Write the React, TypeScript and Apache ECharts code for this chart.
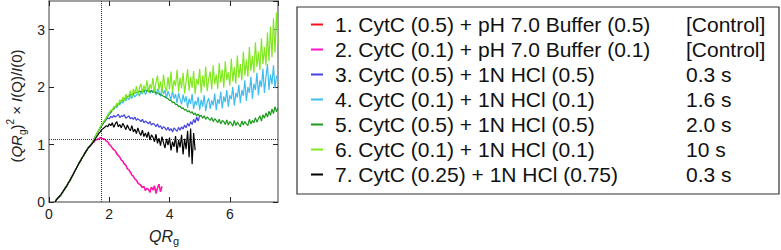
import React, { useEffect, useRef } from "react";
import * as echarts from "echarts";

// x grid of every curve: QRg = X0 + i * DX
const X0 = 0.2;
const DX = 0.05;

// Shared initial rise (QRg 0.20 .. 1.40), identical for all samples
const RISE = [0.0, 0.04, 0.07, 0.1, 0.13, 0.17, 0.21, 0.25, 0.29, 0.34, 0.38, 0.43, 0.48, 0.53, 0.58, 0.63, 0.68, 0.72, 0.77, 0.81, 0.86, 0.9, 0.94, 0.97, 1.0];

// 2. CytC (0.1) + pH 7.0 Buffer (0.1), QRg 1.45 .. 3.75
const S2_TAIL = [1.03, 1.05, 1.08, 1.09, 1.1, 1.12, 1.11, 1.1, 1.09, 1.06, 1.05, 1.0, 0.98, 0.94, 0.91, 0.89, 0.84, 0.81, 0.78, 0.73, 0.71, 0.66, 0.64, 0.58, 0.56, 0.52, 0.47, 0.45, 0.4, 0.38, 0.33, 0.31, 0.29, 0.25, 0.27, 0.2, 0.24, 0.22, 0.17, 0.26, 0.21, 0.28, 0.15, 0.24, 0.31, 0.18, 0.27];
// 1. CytC (0.5) + pH 7.0 Buffer (0.5): hidden beneath curve 2 in the figure
const S1_TAIL = S2_TAIL;

// 3. CytC (0.5) + 1N HCl (0.5), QRg 1.45 .. 5.00
const S3_TAIL = [1.05, 1.1, 1.15, 1.2, 1.24, 1.29, 1.33, 1.37, 1.4, 1.44, 1.46, 1.45, 1.49, 1.47, 1.51, 1.48, 1.5, 1.53, 1.47, 1.5, 1.49, 1.52, 1.46, 1.48, 1.5, 1.45, 1.47, 1.44, 1.48, 1.42, 1.45, 1.43, 1.4, 1.44, 1.38, 1.41, 1.39, 1.36, 1.4, 1.34, 1.37, 1.35, 1.31, 1.36, 1.3, 1.33, 1.27, 1.31, 1.29, 1.25, 1.3, 1.24, 1.28, 1.22, 1.29, 1.26, 1.23, 1.3, 1.25, 1.31, 1.27, 1.34, 1.29, 1.37, 1.32, 1.4, 1.35, 1.44, 1.38, 1.48, 1.41, 1.5];

// 4. CytC (0.1) + 1N HCl (0.1), QRg 1.45 .. 7.55
const S4_TAIL = [1.05, 1.1, 1.15, 1.2, 1.25, 1.3, 1.34, 1.39, 1.42, 1.47, 1.5, 1.56, 1.55, 1.61, 1.62, 1.66, 1.64, 1.71, 1.69, 1.75, 1.72, 1.79, 1.76, 1.82, 1.78, 1.85, 1.8, 1.88, 1.83, 1.86, 1.91, 1.84, 1.93, 1.88, 1.96, 1.87, 1.94, 1.99, 1.89, 1.95, 1.91, 2.0, 1.86, 1.97, 1.92, 1.84, 1.99, 1.88, 1.95, 1.81, 1.93, 1.86, 1.78, 1.94, 1.8, 1.88, 1.72, 1.9, 1.79, 1.7, 1.87, 1.74, 1.84, 1.64, 1.8, 1.71, 1.88, 1.62, 1.76, 1.69, 1.83, 1.6, 1.78, 1.66, 1.86, 1.58, 1.74, 1.81, 1.62, 1.77, 1.68, 1.89, 1.6, 1.79, 1.71, 1.92, 1.63, 1.84, 1.74, 1.95, 1.66, 1.86, 1.79, 2.0, 1.68, 1.9, 1.82, 2.04, 1.72, 1.95, 1.85, 2.12, 1.76, 2.0, 1.9, 2.18, 1.8, 2.06, 1.95, 2.25, 1.86, 2.12, 2.0, 2.32, 1.9, 2.18, 2.4, 1.95, 2.22, 2.05, 2.38, 1.98, 2.2];

// 5. CytC (0.5) + 1N HCl (0.5), QRg 1.45 .. 7.60
const S5_TAIL = [1.05, 1.1, 1.15, 1.2, 1.25, 1.29, 1.33, 1.37, 1.41, 1.45, 1.49, 1.53, 1.56, 1.6, 1.62, 1.66, 1.68, 1.71, 1.73, 1.76, 1.77, 1.8, 1.81, 1.84, 1.84, 1.87, 1.87, 1.89, 1.9, 1.91, 1.92, 1.93, 1.92, 1.94, 1.93, 1.95, 1.93, 1.94, 1.92, 1.94, 1.91, 1.92, 1.9, 1.9, 1.88, 1.87, 1.86, 1.84, 1.83, 1.81, 1.8, 1.77, 1.77, 1.73, 1.74, 1.7, 1.7, 1.66, 1.67, 1.63, 1.64, 1.6, 1.61, 1.57, 1.59, 1.55, 1.57, 1.52, 1.55, 1.5, 1.53, 1.49, 1.51, 1.46, 1.5, 1.44, 1.48, 1.45, 1.42, 1.47, 1.4, 1.45, 1.42, 1.38, 1.44, 1.36, 1.42, 1.4, 1.35, 1.43, 1.34, 1.4, 1.37, 1.32, 1.42, 1.33, 1.39, 1.35, 1.31, 1.41, 1.34, 1.4, 1.36, 1.33, 1.44, 1.36, 1.42, 1.38, 1.47, 1.39, 1.45, 1.5, 1.41, 1.52, 1.46, 1.55, 1.48, 1.58, 1.51, 1.62, 1.54, 1.66, 1.57, 1.64];

// 6. CytC (0.1) + 1N HCl (0.1), QRg 1.45 .. 7.60
const S6_TAIL = [1.05, 1.1, 1.15, 1.2, 1.25, 1.3, 1.35, 1.39, 1.43, 1.46, 1.52, 1.54, 1.6, 1.59, 1.67, 1.64, 1.72, 1.69, 1.78, 1.73, 1.83, 1.76, 1.88, 1.8, 1.85, 1.94, 1.82, 1.97, 1.88, 2.02, 1.86, 1.98, 2.06, 1.9, 2.03, 1.94, 2.12, 1.91, 2.05, 1.97, 2.16, 1.92, 2.08, 2.2, 1.95, 2.1, 1.9, 2.22, 2.0, 1.93, 2.18, 1.96, 2.27, 1.91, 2.12, 2.02, 2.3, 1.92, 2.16, 1.98, 2.25, 1.89, 2.1, 2.31, 1.94, 2.18, 1.99, 2.28, 1.88, 2.14, 2.04, 2.32, 1.9, 2.2, 2.0, 2.36, 1.93, 2.15, 2.27, 1.96, 2.38, 2.05, 2.22, 1.97, 2.42, 2.08, 2.3, 1.99, 2.45, 2.12, 2.26, 2.03, 2.5, 2.1, 2.35, 2.06, 2.55, 2.16, 2.4, 2.12, 2.62, 2.2, 2.48, 2.18, 2.7, 2.28, 2.55, 2.25, 2.78, 2.35, 2.62, 2.3, 2.85, 2.4, 2.7, 2.38, 2.95, 2.45, 3.05, 2.52, 3.2, 2.6, 3.3, 2.75];

// 7. CytC (0.25) + 1N HCl (0.75), QRg 1.45 .. 4.85
const S7_TAIL = [1.03, 1.07, 1.11, 1.15, 1.19, 1.22, 1.26, 1.28, 1.3, 1.33, 1.31, 1.36, 1.33, 1.38, 1.3, 1.36, 1.4, 1.31, 1.35, 1.29, 1.37, 1.32, 1.26, 1.34, 1.28, 1.24, 1.33, 1.22, 1.27, 1.19, 1.29, 1.21, 1.16, 1.25, 1.14, 1.2, 1.12, 1.22, 1.08, 1.17, 1.13, 1.05, 1.18, 1.02, 1.11, 0.98, 1.14, 1.03, 0.94, 1.1, 0.99, 1.12, 0.9, 1.05, 0.96, 1.15, 0.86, 1.08, 0.95, 1.17, 0.83, 1.1, 0.92, 1.24, 0.78, 1.28, 0.66, 1.2, 0.9];

const SERIES_NAMES = [
  "1. CytC (0.5) + pH 7.0 Buffer (0.5)",
  "2. CytC (0.1) + pH 7.0 Buffer (0.1)",
  "3. CytC (0.5) + 1N HCl (0.5)",
  "4. CytC (0.1) + 1N HCl (0.1)",
  "5. CytC (0.5) + 1N HCl (0.5)",
  "6. CytC (0.1) + 1N HCl (0.1)",
  "7. CytC (0.25) + 1N HCl (0.75)",
];
const SERIES_TIMES = ["[Control]", "[Control]", "0.3 s", "1.6 s", "2.0 s", "10 s", "0.3 s"];
const SERIES_COLORS = ["#ff1020", "#ff12c8", "#4343e0", "#3dbdf0", "#1c9a1c", "#80e81e", "#000000"];
const SERIES_TAILS = [S1_TAIL, S2_TAIL, S3_TAIL, S4_TAIL, S5_TAIL, S6_TAIL, S7_TAIL];

// Reference dotted lines (Kratky peak position for a globular protein)
const REF_X = 1.732;
const REF_Y = 1.104;

const X_TICKS = { min: 0, max: 7.6, interval: 2 };
const Y_TICKS = { min: 0, max: 3.5, interval: 1 };

const FONT = "'Liberation Sans', Arial, sans-serif";

export default function App() {
  const ref = useRef<HTMLDivElement>(null);

  useEffect(() => {
    if (!ref.current) return;
    const chart = echarts.init(ref.current, null, { renderer: "svg" });

    const toPts = (ys: number[]) => ys.map((y, i) => [Number((X0 + i * DX).toFixed(2)), y]);

    const frameColor = "#808080";
    const axisBase = {
      axisLine: { show: true, onZero: false, lineStyle: { color: frameColor, width: 1.5 } },
      axisTick: { show: true, inside: true, length: 5, lineStyle: { color: "#222", width: 1 } },
      splitLine: { show: false },
    };

    const series: any[] = SERIES_NAMES.map((name, k) => ({
      name,
      type: "line",
      xAxisIndex: 0,
      yAxisIndex: 0,
      data: toPts([...RISE, ...SERIES_TAILS[k]]),
      showSymbol: false,
      symbol: "none",
      lineStyle: { color: SERIES_COLORS[k], width: 1.2 },
      itemStyle: { color: SERIES_COLORS[k] },
      clip: true,
      z: 2 + k,
      markLine:
        k === 0
          ? {
              silent: true,
              symbol: "none",
              label: { show: false },
              lineStyle: { type: "dotted", color: "#333", width: 1 },
              data: [{ xAxis: REF_X }, { yAxis: REF_Y }],
            }
          : undefined,
    }));

    chart.setOption({
      animation: false,
      textStyle: { fontFamily: FONT },
      grid: { left: 49, top: 1, width: 229, height: 201, containLabel: false },
      xAxis: [
        {
          type: "value",
          position: "bottom",
          ...X_TICKS,
          ...axisBase,
          axisLabel: { show: true, fontSize: 14, color: "#222", margin: 5, fontFamily: FONT, showMaxLabel: false },
        },
        {
          type: "value",
          position: "top",
          ...X_TICKS,
          ...axisBase,
          axisLabel: { show: false },
        },
      ],
      yAxis: [
        {
          type: "value",
          position: "left",
          ...Y_TICKS,
          ...axisBase,
          axisLabel: { show: true, fontSize: 14, color: "#222", margin: 4, fontFamily: FONT, showMaxLabel: false },
        },
        {
          type: "value",
          position: "right",
          ...Y_TICKS,
          ...axisBase,
          axisLabel: { show: false },
        },
      ],
      legend: {
        orient: "vertical",
        left: 297,
        top: 7,
        padding: [7, 3, 9, 14],
        itemGap: 4,
        itemWidth: 12,
        itemHeight: 2,
        icon: "rect",
        selectedMode: false,
        borderColor: "#333",
        borderWidth: 1.2,
        backgroundColor: "#fff",
        data: SERIES_NAMES,
        formatter: (name: string) => {
          const i = SERIES_NAMES.indexOf(name);
          return `{a|${name}}{b|${SERIES_TIMES[i]}}`;
        },
        textStyle: {
          fontSize: 21,
          color: "#111",
          fontFamily: FONT,
          rich: {
            a: { fontSize: 21, width: 351, padding: [0, 0, 0, 7], lineHeight: 21, fontFamily: FONT, color: "#111" },
            b: { fontSize: 21, width: 90, lineHeight: 21, fontFamily: FONT, color: "#111" },
          },
        },
      },
      graphic: [
        {
          type: "text",
          x: 164,
          y: 236,
          style: {
            text: "{i|QR}{s|g}",
            align: "center",
            verticalAlign: "middle",
            fill: "#222",
            rich: {
              i: { fontSize: 16, fontStyle: "italic", lineHeight: 20, fontFamily: FONT, fill: "#222" },
              s: { fontSize: 11, lineHeight: 12, verticalAlign: "bottom", fontFamily: FONT, fill: "#222" },
            },
          },
        },
        {
          type: "text",
          x: 16,
          y: 106,
          rotation: Math.PI / 2,
          style: {
            text: "{n|(}{i|QR}{s|g}{n|)}{p|2}{n| × }{i|I}{n|(Q)/}{i|I}{n|(0)}",
            align: "center",
            verticalAlign: "middle",
            fill: "#222",
            rich: {
              n: { fontSize: 15, lineHeight: 22, fontFamily: FONT, fill: "#222" },
              i: { fontSize: 15, fontStyle: "italic", lineHeight: 22, fontFamily: FONT, fill: "#222" },
              s: { fontSize: 10, lineHeight: 11, verticalAlign: "bottom", fontFamily: FONT, fill: "#222" },
              p: { fontSize: 10, lineHeight: 11, verticalAlign: "top", fontFamily: FONT, fill: "#222" },
            },
          },
        },
      ],
      series,
    });

    return () => chart.dispose();
  }, []);

  return (
    <div
      ref={ref}
      style={{ position: "fixed", left: 0, top: 0, width: 781, height: 250, background: "#fff" }}
    />
  );
}
